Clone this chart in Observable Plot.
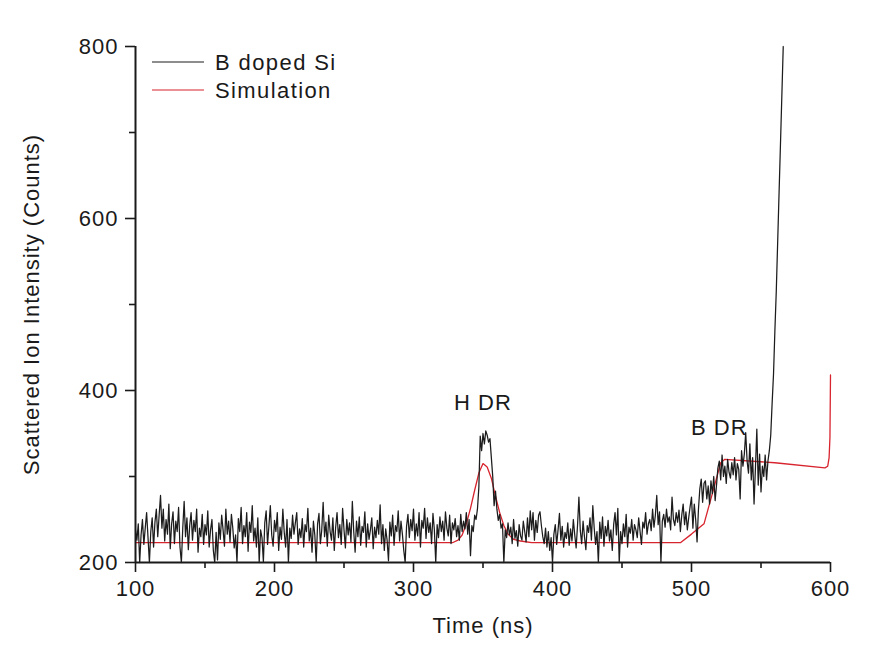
<!DOCTYPE html>
<html>
<head>
<meta charset="utf-8">
<script src="https://cdn.jsdelivr.net/npm/d3@7"></script>
<script src="https://cdn.jsdelivr.net/npm/@observablehq/plot@0.6"></script>
<style>
  html, body { margin: 0; padding: 0; background: #ffffff; }
  #chart svg text { letter-spacing: 1px; }
  #chart svg g[aria-label="ylabel"] text { letter-spacing: 1.4px; }
</style>
</head>
<body>
<div id="chart"></div>
<script>
// ---- text ----
const xLabel = "Time (ns)";
const yLabel = "Scattered Ion Intensity (Counts)";
const seriesNames = ["B doped Si", "Simulation"];
const seriesColors = ["#1c1c1c", "#d8242e"];

// ---- ticks ----
const xTicks = [100, 200, 300, 400, 500, 600];
const xMinorTicks = [150, 250, 350, 450, 550];
const yTicks = [200, 400, 600, 800];
const yMinorTicks = [300, 500, 700];

// ---- measured spectrum (B doped Si), sampled every 1 ns from 100 ns ----
const measStart = 100;
const measStep = 1;
const measCounts = [
  238, 226, 245, 200, 232, 250, 221, 240, 258, 229,
  200, 236, 252, 218, 247, 262, 230, 255, 278, 240,
  262, 225, 250, 233, 268, 216, 245, 259, 222, 248,
  236, 264, 218, 200, 240, 271, 230, 252, 215, 243,
  258, 226, 249, 236, 262, 212, 240, 230, 256, 221,
  244, 232, 260, 218, 238, 250, 214, 200, 235, 203,
  246, 227, 255, 238, 219, 262, 233, 248, 224, 256,
  240, 217, 232, 200, 251, 236, 264, 222, 243, 230,
  258, 213, 247, 235, 266, 225, 240, 218, 252, 200,
  238, 229, 201, 246, 260, 221, 243, 266, 232, 219,
  249, 236, 258, 214, 241, 227, 262, 235, 218, 250,
  200, 240, 228, 255, 233, 246, 258, 221, 239, 229,
  251, 218, 244, 236, 263, 225, 240, 212, 248, 232,
  200, 245, 257, 222, 238, 270, 230, 247, 219, 255,
  236, 226, 252, 214, 241, 258, 229, 244, 221, 263,
  238, 217, 250, 232, 246, 224, 271, 236, 212, 248,
  230, 253, 220, 242, 235, 259, 218, 245, 227, 238,
  252, 216, 241, 229, 249, 233, 267, 222, 244, 214,
  239, 226, 202, 247, 231, 255, 220, 243, 236, 260,
  225, 248, 233, 214, 200, 242, 256, 229, 250, 237,
  262, 226, 245, 231, 258, 218, 249, 240, 263, 228,
  252, 235, 246, 222, 257, 238, 200, 244, 229, 253,
  236, 248, 226, 259, 240, 231, 255, 222, 246, 238,
  251, 230, 243, 226, 256, 236, 248, 239, 258, 233,
  250, 208, 243, 236, 255, 250, 262, 287, 347, 330,
  350, 338, 353, 348, 340, 344, 322, 300, 266, 283,
  262, 249, 256, 240, 245, 200, 238, 229, 246, 232,
  241, 222, 250, 228, 237, 219, 244, 231, 226, 248,
  236, 224, 252, 230, 260, 238, 258, 226, 249, 235,
  255, 259, 243, 230, 222, 240, 218, 236, 214, 229,
  200, 233, 244, 221, 238, 257, 226, 242, 218, 235,
  228, 246, 220, 239, 225, 250, 232, 217, 243, 276,
  237, 222, 248, 230, 215, 243, 235, 252, 226, 266,
  240, 221, 236, 200, 247, 228, 253, 219, 242, 231,
  249, 225, 238, 214, 244, 258, 232, 263, 200, 236,
  222, 245, 230, 256, 218, 241, 234, 250, 226, 244,
  238, 229, 252, 236, 221, 247, 240, 258, 233, 245,
  250, 237, 262, 241, 255, 278, 244, 259, 200, 248,
  256, 241, 262, 247, 253, 238, 276, 250, 243, 258,
  247, 261, 236, 255, 268, 244, 259, 238, 252, 265,
  276, 240, 268, 250, 224, 262, 286, 297, 270, 292,
  295, 274, 289, 268, 295, 280, 300, 272, 290, 310,
  318, 296, 325, 300, 312, 292, 320, 305, 298, 316,
  302, 322, 296, 315, 308, 274, 330, 312, 326, 351,
  318, 304, 338, 296, 322, 268, 310, 355, 290, 326,
  282, 312, 300, 325, 296, 318, 330
];
// steep substrate edge at the end of the measured spectrum
const riseTime   = [557, 558, 559, 560, 561, 562, 563, 564, 565, 566];
const riseCounts = [348, 385, 419, 470, 516, 573, 630, 686, 743, 800];

// ---- simulation ----
const simTime = [100, 328, 332, 335, 338, 341, 344, 347, 350, 353, 356, 359, 362, 365, 368, 372, 377, 385,
                 492, 500, 509, 515, 521, 524, 560, 596, 598, 599, 599.6, 600];
const simCounts = [223, 223, 226, 232, 245, 263, 284, 304, 315, 311, 298, 277, 258, 243, 233, 227, 225, 223,
                   223, 233, 245, 280, 316, 320, 316, 310, 312, 322, 345, 418];

// ---- annotations ----
const annotLabels = ["H DR", "B DR"];
const annotTime = [350, 520];
const annotCounts = [386, 356];

// ---- build tables ----
const measured = measCounts.map((c, i) => ({t: measStart + i * measStep, c}))
  .concat(riseTime.map((t, i) => ({t, c: riseCounts[i]})));
const simulation = simTime.map((t, i) => ({t, c: simCounts[i]}));
const annotations = annotLabels.map((label, i) => ({label, t: annotTime[i], c: annotCounts[i]}));

const font = "'Liberation Sans', Arial, sans-serif";

function legendMark(index, scales, values, dims) {
  const g = d3.create("svg:g").attr("aria-label", "legend");
  seriesNames.forEach((name, i) => {
    const y = dims.marginTop + 16 + i * 28;
    const x0 = dims.marginLeft + 17;
    g.append("line")
      .attr("x1", x0).attr("x2", x0 + 52)
      .attr("y1", y).attr("y2", y)
      .attr("stroke", seriesColors[i]).attr("stroke-width", 1.2);
    g.append("text")
      .attr("x", x0 + 63).attr("y", y).attr("dy", "0.36em")
      .attr("text-anchor", "start")
      .attr("font-size", 22).attr("fill", "#1a1a1a")
      .style("letter-spacing", "1.4px")
      .text(name);
  });
  return g.node();
}

const chart = Plot.plot({
  width: 889,
  height: 663,
  marginLeft: 135,
  marginRight: 59,
  marginTop: 46,
  marginBottom: 101,
  x: {domain: [100, 600]},
  y: {domain: [200, 800]},
  style: {fontFamily: font, fontSize: "21px", color: "#1a1a1a", background: "#ffffff"},
  marks: [
    Plot.axisX({ticks: xMinorTicks, tickSize: 6, tickFormat: () => "", label: null, strokeWidth: 1.6}),
    Plot.axisX({ticks: xTicks, tickSize: 10, tickPadding: 8, label: null, strokeWidth: 1.6, fontSize: 22}),
    Plot.axisY({ticks: yMinorTicks, tickSize: 6, tickFormat: () => "", label: null, strokeWidth: 1.6}),
    Plot.axisY({ticks: yTicks, tickSize: 10, tickPadding: 7, label: null, strokeWidth: 1.6, fontSize: 22}),
    Plot.line(simulation, {x: "t", y: "c", stroke: seriesColors[1], strokeWidth: 1.3}),
    Plot.line(measured, {x: "t", y: "c", stroke: seriesColors[0], strokeWidth: 1.25}),
    Plot.ruleX([100], {stroke: "#1a1a1a", strokeWidth: 2}),
    Plot.ruleY([200], {stroke: "#1a1a1a", strokeWidth: 2}),
    Plot.text(annotations, {x: "t", y: "c", text: "label", fontSize: 22, fill: "#1a1a1a"}),
    Plot.text([xLabel], {frameAnchor: "bottom", dy: 70, text: d => d, fontSize: 22, fill: "#1a1a1a"}),
    Plot.text([yLabel], {frameAnchor: "left", textAnchor: "middle", dx: -104, dy: 0, rotate: -90, text: d => d, fontSize: 22, fill: "#1a1a1a", ariaLabel: "ylabel"}),
    legendMark
  ]
});
document.getElementById("chart").append(chart);
</script>
</body>
</html>
